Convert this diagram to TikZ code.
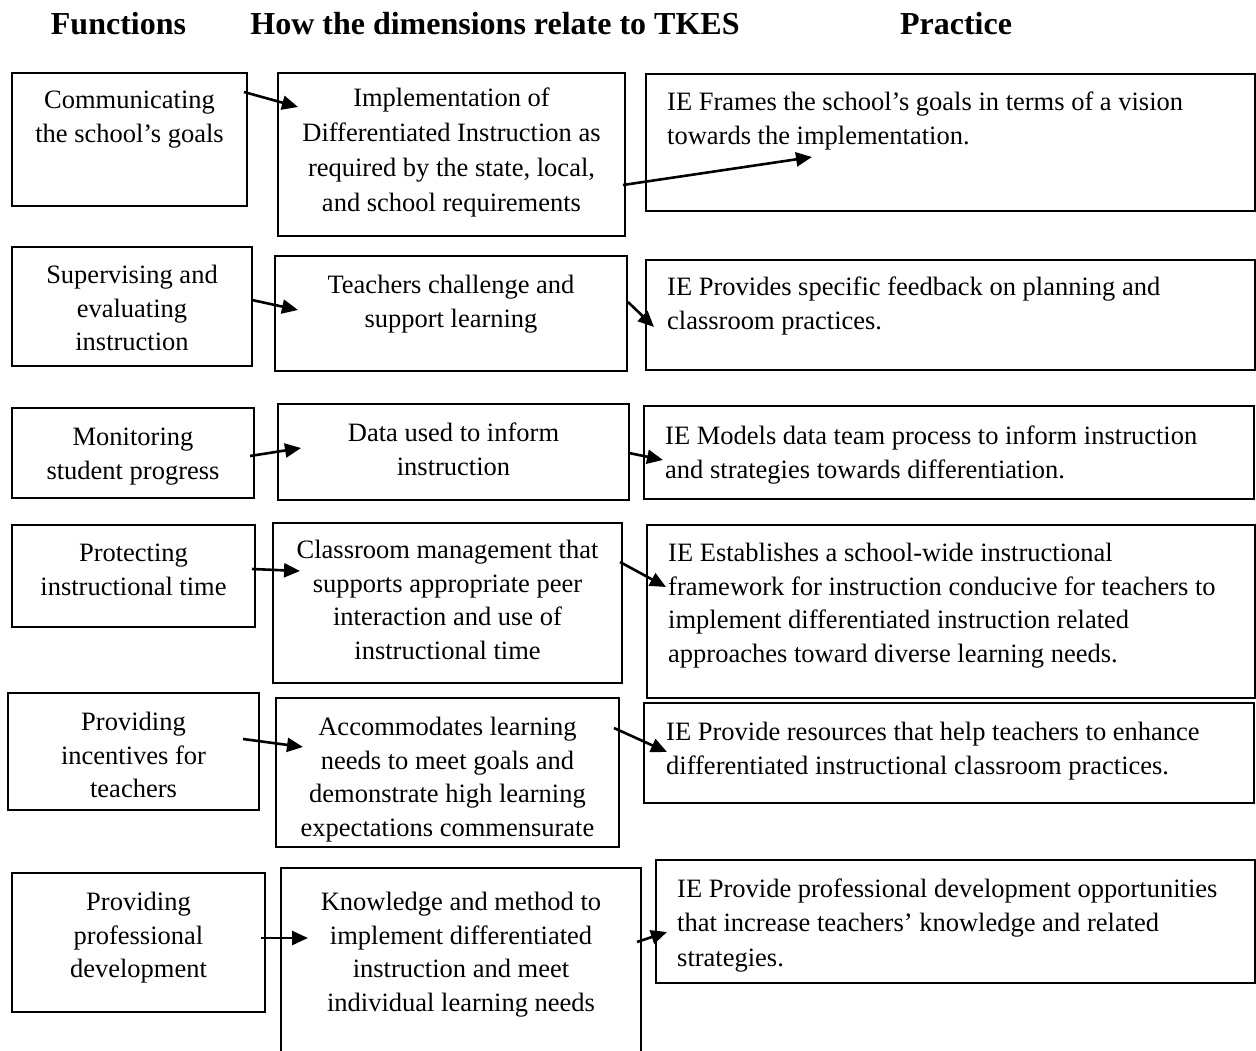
\documentclass[tikz,border=0pt]{standalone}
\usepackage{fontspec}
\setmainfont{Liberation Serif}
\usetikzlibrary{arrows.meta}
\begin{document}
\begin{tikzpicture}[x=1pt,y=-1pt,
  boxnode/.style={draw=black, line width=2.2pt, inner sep=0pt, outer sep=0pt},
  ctext/.style={anchor=north, align=center, inner sep=0pt, font=\fontsize{26.5}{33.5}\selectfont},
  ltext/.style={anchor=north west, align=left, inner sep=0pt, font=\fontsize{26.5}{33.5}\selectfont},
  head/.style={anchor=base, inner sep=0pt, font=\fontsize{32}{38}\selectfont\bfseries},
  conn/.style={line width=2.6pt, -{Triangle[length=16pt,width=14pt]}}]
\useasboundingbox (0,0) rectangle (1256,1051);
\clip (0,0) rectangle (1256,1051);

% headers
\node[head] (h1) at (118.5,35) {Functions};
\node[head] (h2) at (495,35) {How the dimensions relate to TKES};
\node[head] (h3) at (956,35) {Practice};

% boxes
\node[boxnode, minimum width=235pt, minimum height=133pt] (a1) at (129.5,139.5) {};
\node[boxnode, minimum width=347pt, minimum height=163pt] (b1) at (451.5,154.5) {};
\node[boxnode, minimum width=609pt, minimum height=137pt] (c1) at (950.5,142.5) {};

\node[boxnode, minimum width=240pt, minimum height=119pt] (a2) at (132,306.5) {};
\node[boxnode, minimum width=352pt, minimum height=115pt] (b2) at (451,313.5) {};
\node[boxnode, minimum width=609pt, minimum height=110pt] (c2) at (950.5,315) {};

\node[boxnode, minimum width=242pt, minimum height=90pt] (a3) at (133,453) {};
\node[boxnode, minimum width=351pt, minimum height=96pt] (b3) at (453.5,452) {};
\node[boxnode, minimum width=610pt, minimum height=93pt] (c3) at (949,452.5) {};

\node[boxnode, minimum width=243pt, minimum height=102pt] (a4) at (133.5,576) {};
\node[boxnode, minimum width=349pt, minimum height=160pt] (b4) at (447.5,603) {};
\node[boxnode, minimum width=608pt, minimum height=173pt] (c4) at (951,611.5) {};

\node[boxnode, minimum width=251pt, minimum height=117pt] (a5) at (133.5,751.5) {};
\node[boxnode, minimum width=343pt, minimum height=149pt] (b5) at (447.5,772.5) {};
\node[boxnode, minimum width=610pt, minimum height=100pt] (c5) at (949,753) {};

\node[boxnode, minimum width=253pt, minimum height=139pt] (a6) at (138.5,942.5) {};
\node[boxnode, minimum width=360pt, minimum height=202pt] (b6) at (461,969) {};
\node[boxnode, minimum width=599pt, minimum height=123pt] (c6) at (955.5,921.5) {};

% texts
\node[ctext] (a1t) at (129.5,85) {\strut Communicating\\the school’s goals};
\node[ctext, font=\fontsize{26.5}{35}\selectfont] (b1t) at (451.5,82) {\strut Implementation of\\Differentiated Instruction as\\required by the state, local,\\and school requirements};
\node[ltext] (c1t) at (667,87) {\strut IE Frames the school’s goals in terms of a vision\\towards the implementation.};

\node[ctext] (a2t) at (132,260) {\strut Supervising and\\evaluating\\instruction};
\node[ctext] (b2t) at (451,270) {\strut Teachers challenge and\\support learning};
\node[ltext] (c2t) at (667,272) {\strut IE Provides specific feedback on planning and\\classroom practices.};

\node[ctext] (a3t) at (133,422) {\strut Monitoring\\student progress};
\node[ctext] (b3t) at (453.5,418) {\strut Data used to inform\\instruction};
\node[ltext] (c3t) at (665,421) {\strut IE Models data team process to inform instruction\\and strategies towards differentiation.};

\node[ctext] (a4t) at (133.5,538) {\strut Protecting\\instructional time};
\node[ctext] (b4t) at (447.5,535) {\strut Classroom management that\\supports appropriate peer\\interaction and use of\\instructional time};
\node[ltext] (c4t) at (668,538) {\strut IE Establishes a school-wide instructional\\framework for instruction conducive for teachers to\\implement differentiated instruction related\\approaches toward diverse learning needs.};

\node[ctext] (a5t) at (133.5,707) {\strut Providing\\incentives for\\teachers};
\node[ctext] (b5t) at (447.5,712) {\strut Accommodates learning\\needs to meet goals and\\demonstrate high learning\\expectations commensurate};
\node[ltext] (c5t) at (666,717) {\strut IE Provide resources that help teachers to enhance\\differentiated instructional classroom practices.};

\node[ctext] (a6t) at (138.5,887) {\strut Providing\\professional\\development};
\node[ctext] (b6t) at (461,887) {\strut Knowledge and method to\\implement differentiated\\instruction and meet\\individual learning needs};
\node[ltext, font=\fontsize{26.5}{34.5}\selectfont] (c6t) at (677,873) {\strut IE Provide professional development opportunities\\that increase teachers’ knowledge and related\\strategies.};

% connector end points
\coordinate (s1) at (244,92);  \coordinate (t1) at (298,107);
\coordinate (s2) at (623,185); \coordinate (t2) at (812,157);
\coordinate (s3) at (252,300); \coordinate (t3) at (298,310);
\coordinate (s4) at (628,302); \coordinate (t4) at (654,327);
\coordinate (s5) at (250,456); \coordinate (t5) at (301,448);
\coordinate (s6) at (629,453); \coordinate (t6) at (663,460);
\coordinate (s7) at (252,569); \coordinate (t7) at (300,571);
\coordinate (s8) at (620,562); \coordinate (t8) at (666,587);
\coordinate (s9) at (243,739); \coordinate (t9) at (303,747);
\coordinate (s10) at (614,728); \coordinate (t10) at (667,752);
\coordinate (s11) at (261,938); \coordinate (t11) at (308,938);
\coordinate (s12) at (637,942); \coordinate (t12) at (667,932);

\foreach \i in {1,...,12} {\draw[conn] (s\i) -- (t\i);}
\end{tikzpicture}
\end{document}
